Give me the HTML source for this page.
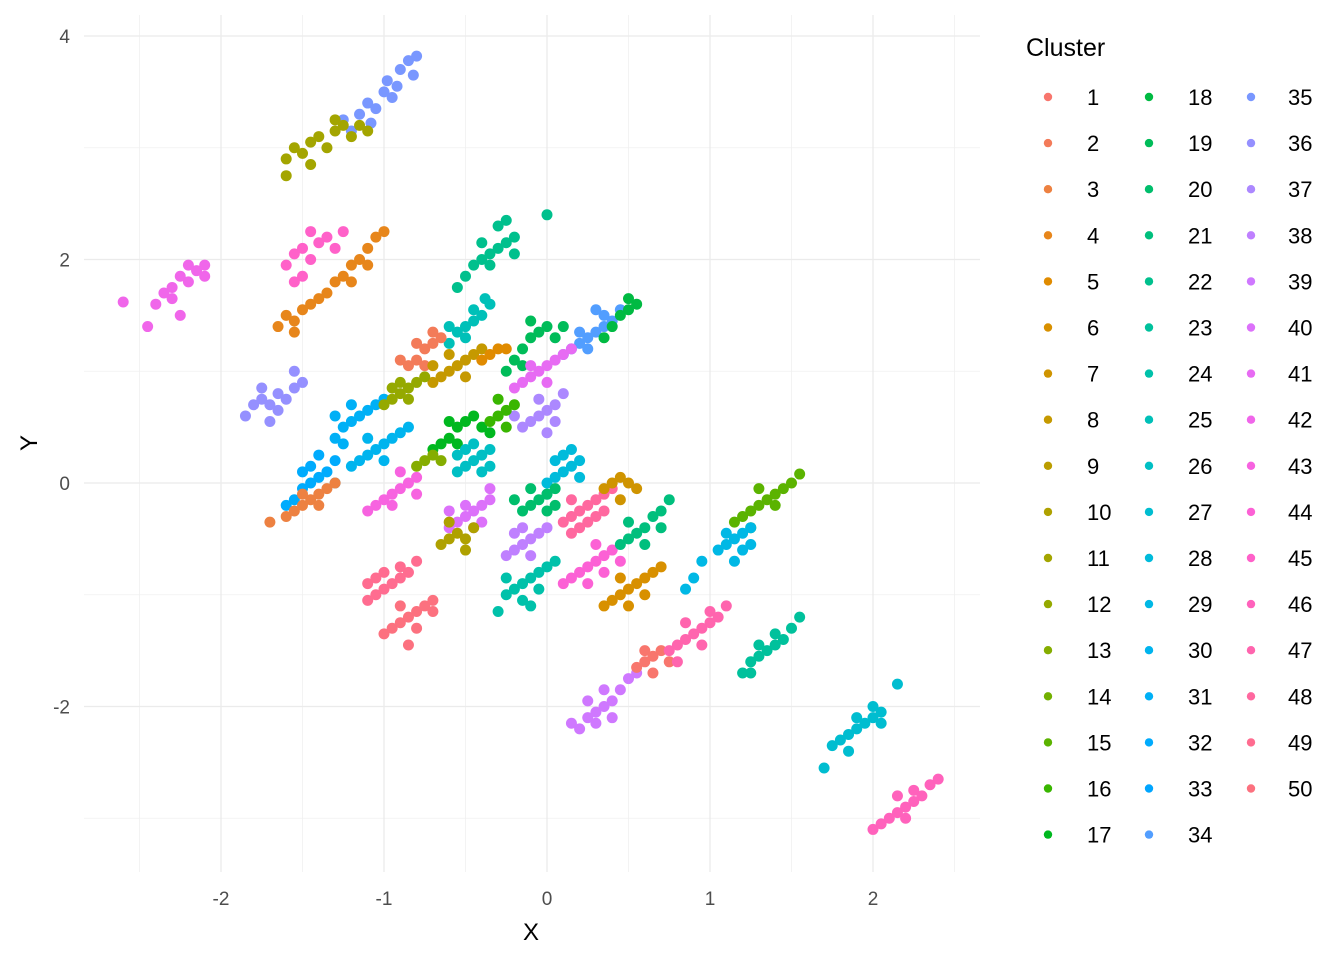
<!DOCTYPE html>
<html><head><meta charset="utf-8">
<style>
html,body{margin:0;padding:0;background:#fff;}
svg{display:block;font-family:"Liberation Sans",Arial,sans-serif;}
</style></head>
<body>
<svg id="chart" width="1344" height="960" viewBox="0 0 1344 960" xmlns="http://www.w3.org/2000/svg"></svg>
<script>
const xTicks = [-2, -1, 0, 1, 2];
const yTicks = [-2, 0, 2, 4];
const xMinor = [-2.5, -1.5, -0.5, 0.5, 1.5, 2.5];
const yMinor = [-3, -1, 1, 3];
const clusterCount = 50;
const clusterIds = [35,11,42,45,4,22,25,19,34,18,41,37,36,31,30,32,2,8,12,17,16,26,3,43,40,10,28,20,48,7,38,39,24,44,6,21,49,50,15,29,1,47,23,27,46,13,5];
const clusterPts = [
[-1.2,3.15,-1.15,3.3,-1.1,3.4,-1.05,3.35,-1.0,3.5,-0.98,3.6,-0.92,3.55,-0.9,3.7,-0.85,3.78,-0.8,3.82,-1.08,3.22,-0.95,3.45,-1.25,3.25,-0.82,3.65],
[-1.6,2.9,-1.55,3.0,-1.5,2.95,-1.45,3.05,-1.4,3.1,-1.35,3.0,-1.3,3.15,-1.25,3.2,-1.2,3.1,-1.15,3.2,-1.6,2.75,-1.45,2.85,-1.3,3.25,-1.1,3.15],
[-2.4,1.6,-2.35,1.7,-2.3,1.75,-2.25,1.85,-2.2,1.8,-2.15,1.9,-2.1,1.95,-2.3,1.65,-2.2,1.95,-2.45,1.4,-2.25,1.5,-2.1,1.85,-2.6,1.62],
[-1.6,1.95,-1.55,2.05,-1.5,2.1,-1.45,2.0,-1.4,2.15,-1.35,2.2,-1.3,2.1,-1.5,1.85,-1.55,1.8,-1.25,2.25,-1.45,2.25],
[-1.65,1.4,-1.6,1.5,-1.55,1.45,-1.5,1.55,-1.45,1.6,-1.4,1.65,-1.35,1.7,-1.3,1.8,-1.25,1.85,-1.2,1.95,-1.15,2.0,-1.1,2.1,-1.05,2.2,-1.0,2.25,-1.55,1.35,-1.2,1.8,-1.1,1.95],
[-0.5,1.85,-0.45,1.95,-0.4,2.0,-0.35,2.05,-0.3,2.1,-0.25,2.15,-0.2,2.2,-0.3,2.3,-0.25,2.35,-0.4,2.15,-0.2,2.05,-0.55,1.75,0.0,2.4,-0.35,1.95],
[-0.6,1.25,-0.55,1.35,-0.5,1.4,-0.45,1.45,-0.4,1.5,-0.35,1.6,-0.5,1.3,-0.45,1.55,-0.38,1.65,-0.6,1.4],
[-0.2,1.1,-0.15,1.2,-0.1,1.3,-0.05,1.35,0.0,1.4,-0.25,1.0,-0.1,1.45,0.05,1.3,-0.15,1.05,0.1,1.4],
[0.1,1.15,0.15,1.2,0.2,1.25,0.25,1.3,0.3,1.35,0.35,1.4,0.4,1.45,0.3,1.55,0.25,1.2,0.35,1.5,0.45,1.55,0.2,1.35],
[0.4,1.4,0.45,1.5,0.5,1.55,0.55,1.6,0.5,1.65,0.35,1.3],
[-0.2,0.85,-0.15,0.9,-0.1,0.95,-0.05,1.0,0.0,1.05,0.05,1.1,0.1,1.15,-0.1,1.05,0.0,0.9,0.15,1.2],
[-0.15,0.5,-0.1,0.55,-0.05,0.6,0.0,0.65,0.05,0.7,0.05,0.55,-0.05,0.75,0.0,0.45,0.1,0.8,-0.2,0.6],
[-1.85,0.6,-1.8,0.7,-1.75,0.75,-1.7,0.7,-1.65,0.8,-1.6,0.75,-1.55,0.85,-1.5,0.9,-1.65,0.65,-1.75,0.85,-1.55,1.0,-1.7,0.55],
[-1.3,0.4,-1.25,0.5,-1.2,0.55,-1.15,0.6,-1.1,0.65,-1.05,0.7,-1.2,0.7,-1.3,0.6,-1.0,0.75,-1.25,0.35],
[-1.15,0.2,-1.1,0.25,-1.05,0.3,-1.0,0.35,-0.95,0.4,-0.9,0.45,-1.0,0.2,-1.1,0.4,-0.85,0.5,-1.2,0.15],
[-1.55,-0.15,-1.5,-0.05,-1.45,0.0,-1.4,0.05,-1.35,0.1,-1.3,0.2,-1.45,0.15,-1.5,0.1,-1.3,0.0,-1.6,-0.2,-1.4,0.25],
[-0.85,1.05,-0.8,1.1,-0.75,1.2,-0.7,1.25,-0.65,1.3,-0.8,1.25,-0.7,1.35,-0.75,1.05,-0.9,1.1],
[-0.7,0.9,-0.65,0.95,-0.6,1.0,-0.55,1.05,-0.5,1.1,-0.45,1.15,-0.6,1.15,-0.5,0.95,-0.4,1.2,-0.7,1.05],
[-1.0,0.7,-0.95,0.75,-0.9,0.8,-0.85,0.85,-0.8,0.9,-0.9,0.9,-0.85,0.75,-0.95,0.85,-0.75,0.95],
[-0.65,0.35,-0.6,0.4,-0.55,0.5,-0.5,0.55,-0.45,0.6,-0.4,0.5,-0.55,0.35,-0.6,0.55,-0.7,0.3,-0.35,0.45],
[-0.35,0.55,-0.3,0.6,-0.25,0.65,-0.2,0.7,-0.3,0.75,-0.25,0.5],
[-0.55,0.1,-0.5,0.15,-0.45,0.2,-0.4,0.25,-0.35,0.3,-0.5,0.3,-0.4,0.1,-0.45,0.35,-0.35,0.15,-0.55,0.25],
[-1.6,-0.3,-1.55,-0.25,-1.5,-0.2,-1.45,-0.15,-1.4,-0.1,-1.35,-0.05,-1.5,-0.1,-1.4,-0.2,-1.3,0.0,-1.7,-0.35],
[-1.05,-0.2,-1.0,-0.15,-0.95,-0.1,-0.9,-0.05,-0.85,0.0,-0.8,0.05,-0.9,0.1,-0.95,-0.2,-0.8,-0.1,-1.1,-0.25],
[-0.6,-0.4,-0.55,-0.35,-0.5,-0.3,-0.45,-0.25,-0.4,-0.2,-0.35,-0.15,-0.5,-0.2,-0.45,-0.4,-0.35,-0.05,-0.6,-0.25,-0.4,-0.35],
[-0.65,-0.55,-0.6,-0.5,-0.55,-0.45,-0.5,-0.5,-0.45,-0.4,-0.6,-0.35,-0.5,-0.6],
[0.0,0.0,0.05,0.05,0.1,0.1,0.15,0.15,0.2,0.2,0.1,0.25,0.15,0.3,0.05,0.2,0.0,-0.1,0.2,0.05],
[-0.15,-0.25,-0.1,-0.2,-0.05,-0.15,0.0,-0.1,0.05,-0.05,-0.1,-0.05,0.0,-0.25,-0.2,-0.15,0.05,-0.2],
[0.1,-0.35,0.15,-0.3,0.2,-0.25,0.25,-0.2,0.3,-0.15,0.35,-0.1,0.25,-0.35,0.15,-0.15,0.35,-0.25,0.4,-0.05,0.2,-0.4,0.15,-0.45,0.3,-0.3],
[0.35,-0.05,0.4,0.0,0.45,0.05,0.5,0.0,0.45,-0.15,0.55,-0.05],
[-0.25,-0.65,-0.2,-0.6,-0.15,-0.55,-0.1,-0.5,-0.05,-0.45,0.0,-0.4,-0.15,-0.4,-0.1,-0.65,-0.2,-0.45],
[0.2,-2.2,0.25,-2.1,0.3,-2.05,0.35,-2.0,0.4,-1.95,0.45,-1.85,0.3,-2.15,0.35,-1.85,0.25,-1.95,0.15,-2.15,0.4,-2.1,0.5,-1.75,0.55,-1.7],
[-0.25,-1.0,-0.2,-0.95,-0.15,-0.9,-0.1,-0.85,-0.05,-0.8,0.0,-0.75,-0.15,-1.05,-0.05,-0.95,0.05,-0.7,-0.25,-0.85,-0.1,-1.1,-0.3,-1.15],
[0.1,-0.9,0.15,-0.85,0.2,-0.8,0.25,-0.75,0.3,-0.7,0.35,-0.65,0.4,-0.6,0.25,-0.9,0.35,-0.8,0.45,-0.7,0.3,-0.55],
[0.35,-1.1,0.4,-1.05,0.45,-1.0,0.5,-0.95,0.55,-0.9,0.6,-0.85,0.65,-0.8,0.5,-1.1,0.6,-1.0,0.7,-0.75,0.45,-0.85],
[0.45,-0.55,0.5,-0.5,0.55,-0.45,0.6,-0.4,0.65,-0.3,0.7,-0.25,0.6,-0.55,0.7,-0.4,0.75,-0.15,0.5,-0.35],
[-1.1,-1.05,-1.05,-1.0,-1.0,-0.95,-0.95,-0.9,-0.9,-0.85,-0.85,-0.8,-1.0,-0.8,-0.9,-0.75,-1.05,-0.85,-0.8,-0.7,-1.1,-0.9],
[-1.0,-1.35,-0.95,-1.3,-0.9,-1.25,-0.85,-1.2,-0.8,-1.15,-0.75,-1.1,-0.7,-1.05,-0.9,-1.1,-0.8,-1.3,-0.85,-1.45,-0.7,-1.15],
[1.15,-0.35,1.2,-0.3,1.25,-0.25,1.3,-0.2,1.35,-0.15,1.4,-0.1,1.45,-0.05,1.5,0.0,1.3,-0.05,1.4,-0.2,1.55,0.08,1.25,-0.4],
[1.05,-0.6,1.1,-0.55,1.15,-0.5,1.2,-0.45,1.25,-0.4,1.1,-0.45,1.2,-0.6,1.15,-0.7,1.25,-0.55,0.95,-0.7,0.9,-0.85,0.85,-0.95],
[0.55,-1.65,0.6,-1.6,0.65,-1.55,0.7,-1.5,0.65,-1.7,0.75,-1.6,0.6,-1.5],
[0.75,-1.5,0.8,-1.45,0.85,-1.4,0.9,-1.35,0.95,-1.3,1.0,-1.25,1.05,-1.2,0.85,-1.25,0.95,-1.45,1.1,-1.1,0.8,-1.6,1.0,-1.15],
[1.2,-1.7,1.25,-1.6,1.3,-1.55,1.35,-1.5,1.4,-1.45,1.45,-1.4,1.5,-1.3,1.3,-1.45,1.4,-1.35,1.55,-1.2,1.25,-1.7],
[1.7,-2.55,1.75,-2.35,1.8,-2.3,1.85,-2.25,1.9,-2.2,1.95,-2.15,2.0,-2.1,2.05,-2.05,1.9,-2.1,2.0,-2.0,2.15,-1.8,1.85,-2.4,2.05,-2.15],
[2.0,-3.1,2.05,-3.05,2.1,-3.0,2.15,-2.95,2.2,-2.9,2.25,-2.85,2.3,-2.8,2.35,-2.7,2.2,-3.0,2.15,-2.8,2.4,-2.65,2.25,-2.75],
[-0.75,0.2,-0.7,0.25,-0.65,0.2,-0.8,0.15],
[-0.4,1.1,-0.35,1.15,-0.3,1.2,-0.25,1.2]
];

const NS = "http://www.w3.org/2000/svg";
const svg = document.getElementById("chart");
const X0 = 547, XS = 163, Y0 = 483, YS = 111.75;
const PL = 84, PR = 980, PT = 15, PB = 872;
function sx(v){ return X0 + v*XS; }
function sy(v){ return Y0 - v*YS; }
function mk(tag, attrs){ const e = document.createElementNS(NS, tag); for (const k in attrs) e.setAttribute(k, attrs[k]); svg.appendChild(e); return e; }

function hcl(h){
  const L=65, C=100, hr=h*Math.PI/180;
  const u=C*Math.cos(hr), v=C*Math.sin(hr);
  const Xn=95.047,Yn=100,Zn=108.883;
  const d=Xn+15*Yn+3*Zn, un=4*Xn/d, vn=9*Yn/d;
  const Y=Yn*Math.pow((L+16)/116,3);
  const up=u/(13*L)+un, vp=v/(13*L)+vn;
  const X=Y*9*up/(4*vp), Z=Y*(12-3*up-20*vp)/(4*vp);
  const x=X/100,y=Y/100,z=Z/100;
  let r=3.2406*x-1.5372*y-0.4986*z, g=-0.9689*x+1.8758*y+0.0415*z, b=0.0557*x-0.2040*y+1.0570*z;
  const gm=c=>{c=c<=0.0031308?12.92*c:1.055*Math.pow(c,1/2.4)-0.055;return Math.round(Math.max(0,Math.min(1,c))*255);};
  return "rgb("+gm(r)+","+gm(g)+","+gm(b)+")";
}
function colorOf(k){ return hcl(15 + (k-1)*360/clusterCount); }

xMinor.forEach(v=>{ const l=mk("line",{x1:sx(v),x2:sx(v),y1:PT,y2:PB,stroke:"#f0f0f0","stroke-width":0.8});

 });
yMinor.forEach(v=>{ const l=mk("line",{x1:PL,x2:PR,y1:sy(v),y2:sy(v),stroke:"#f0f0f0","stroke-width":0.8});

 });
xTicks.forEach(v=>{ const l=mk("line",{x1:sx(v),x2:sx(v),y1:PT,y2:PB,stroke:"#ebebeb","stroke-width":1.3});


const t=mk("text",{x:sx(v),y:905,"text-anchor":"middle","font-size":19,fill:"#4d4d4d"}); t.textContent=v;

 });
yTicks.forEach(v=>{ const l=mk("line",{x1:PL,x2:PR,y1:sy(v),y2:sy(v),stroke:"#ebebeb","stroke-width":1.3});


const t=mk("text",{x:70,y:sy(v)+7,"text-anchor":"end","font-size":19,fill:"#4d4d4d"}); t.textContent=v;

 });

clusterIds.forEach((k,i)=>{
  const pts = clusterPts[i], col = colorOf(k);
  for (let j=0;j<pts.length;j+=2){
    const c = mk("circle",{cx:sx(pts[j]),cy:sy(pts[j+1]),r:5.5,fill:col});
    
    
  }
});

const xt = mk("text",{x:531,y:940,"text-anchor":"middle","font-size":24,fill:"#000"}); xt.textContent="X";


const yt = mk("text",{x:0,y:0,"text-anchor":"middle","font-size":24,fill:"#000",transform:"translate(37,443) rotate(-90)"}); yt.textContent="Y";



const lt = mk("text",{x:1026,y:56,"font-size":25,fill:"#000"}); lt.textContent="Cluster";


const colDot=[1048,1149,1251], colTxt=[1087,1188,1288];
for (let k=1;k<=clusterCount;k++){
  const col = k<=17?0:(k<=34?1:2);
  const row = k<=17?k-1:(k<=34?k-18:k-35);
  const y = 97 + row*46.1;
  const d = mk("circle",{cx:colDot[col],cy:y,r:4.2,fill:colorOf(k)});
  
  
  const t = mk("text",{x:colTxt[col],y:y+8,"font-size":22,fill:"#000"}); t.textContent=k;
  
  
}
</script>
</body></html>
